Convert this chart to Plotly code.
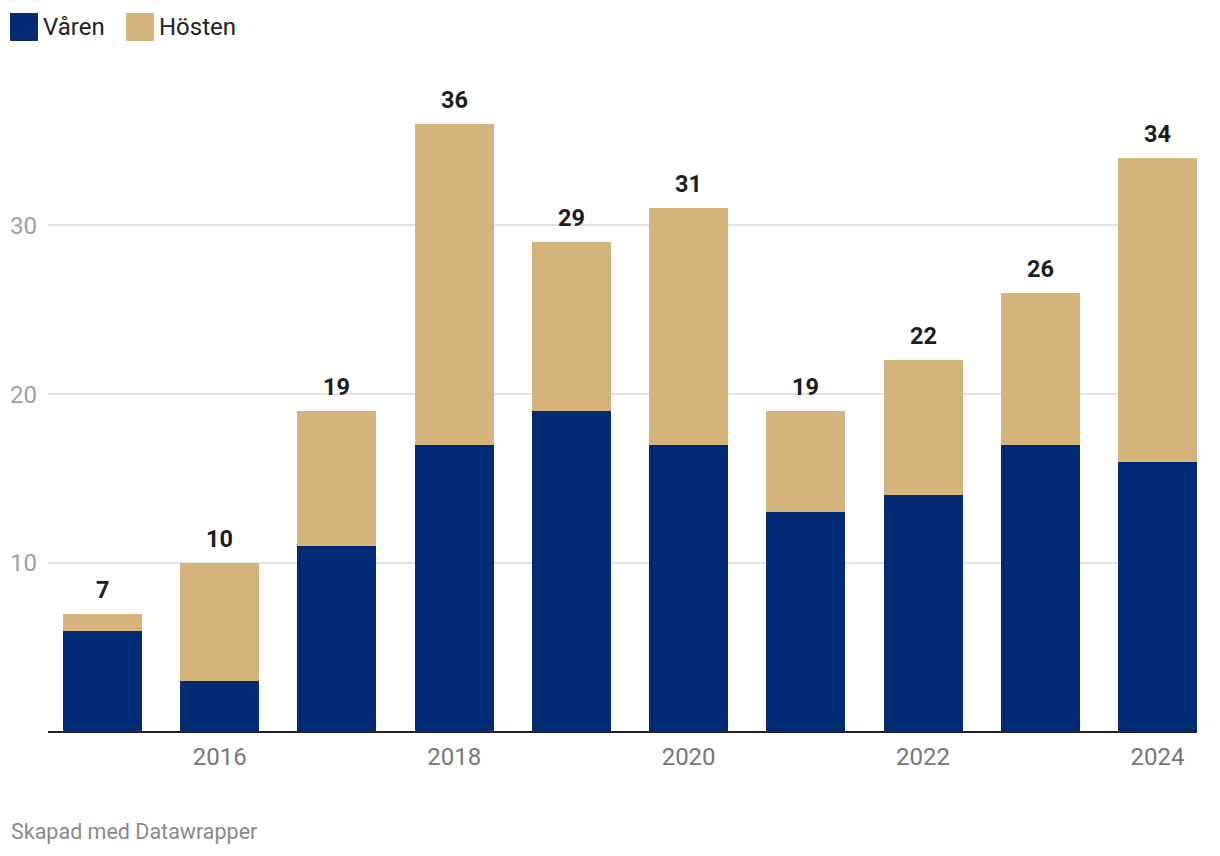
import plotly.graph_objects as go

years = [2015, 2016, 2017, 2018, 2019, 2020, 2021, 2022, 2023, 2024]
varen = [6, 3, 11, 17, 19, 17, 13, 14, 17, 16]
hosten = [1, 7, 8, 19, 10, 14, 6, 8, 9, 18]
totals = [v + h for v, h in zip(varen, hosten)]
x_ticks = [2016, 2018, 2020, 2022, 2024]
y_ticks = [10, 20, 30]

NAVY = "#012c75"
TAN = "#d5b37b"
FONT = "Roboto"

fig = go.Figure()
fig.add_trace(go.Bar(x=years, y=varen, name="Våren", marker_color=NAVY,
                     marker_line_width=0, width=0.674, showlegend=False))
fig.add_trace(go.Bar(x=years, y=hosten, name="Hösten", marker_color=TAN,
                     marker_line_width=0, width=0.674, showlegend=False))

for yr, tot in zip(years, totals):
    fig.add_annotation(x=yr, y=tot, text=str(tot), showarrow=False,
                       xanchor="center", yanchor="middle", yshift=24,
                       font=dict(family=FONT, size=23.5, color="#1d1d1d", weight="bold"))

# page has 8px body margin -> compensate
fig.update_layout(
    barmode="stack",
    width=1212, height=848,
    margin=dict(l=40, r=23, t=82, b=124, autoexpand=False),
    paper_bgcolor="white", plot_bgcolor="white",
    font=dict(family=FONT),
    xaxis=dict(range=[2014.535, 2024.337], tickvals=x_ticks, ticktext=[str(t) for t in x_ticks],
               showgrid=False, zeroline=False, showline=False, ticks="", automargin=False,
               tickfont=dict(family=FONT, size=24, color="#777777"), ticklabelstandoff=8),
    yaxis=dict(range=[0, 38], tickvals=y_ticks, showgrid=True, gridcolor="#e2e2e2", gridwidth=1.5,
               zeroline=True, zerolinecolor="#222222", zerolinewidth=2, automargin=False,
               ticks="", tickfont=dict(family=FONT, size=24, color="#a0a0a0"),
               ticklabelstandoff=10),
    showlegend=False,
)

# manual legend (page pixel coords converted to plot-area paper coords)
PL, PB, PW, PH = 48, 732, 1149, 642
legend_items = [("Våren", NAVY, 10), ("Hösten", TAN, 126)]
for label, color, x0 in legend_items:
    fig.add_shape(type="rect", xref="paper", yref="paper",
                  x0=(x0 - PL) / PW, x1=(x0 + 28 - PL) / PW,
                  y0=(PB - 41) / PH, y1=(PB - 13) / PH,
                  fillcolor=color, line_width=0, layer="above")
    fig.add_annotation(xref="paper", yref="paper", x=(x0 + 31 - PL) / PW, y=(PB - 27) / PH,
                       text=label, showarrow=False, xanchor="left", yanchor="middle",
                       font=dict(family=FONT, size=24, color="#222222"))

fig.add_annotation(xref="paper", yref="paper", x=(9 - PL) / PW, y=(PB - 831) / PH,
                   text="Skapad med Datawrapper", showarrow=False, xanchor="left", yanchor="middle",
                   font=dict(family=FONT, size=21.5, color="#8a8a8a"))

fig.write_html("out.html")
